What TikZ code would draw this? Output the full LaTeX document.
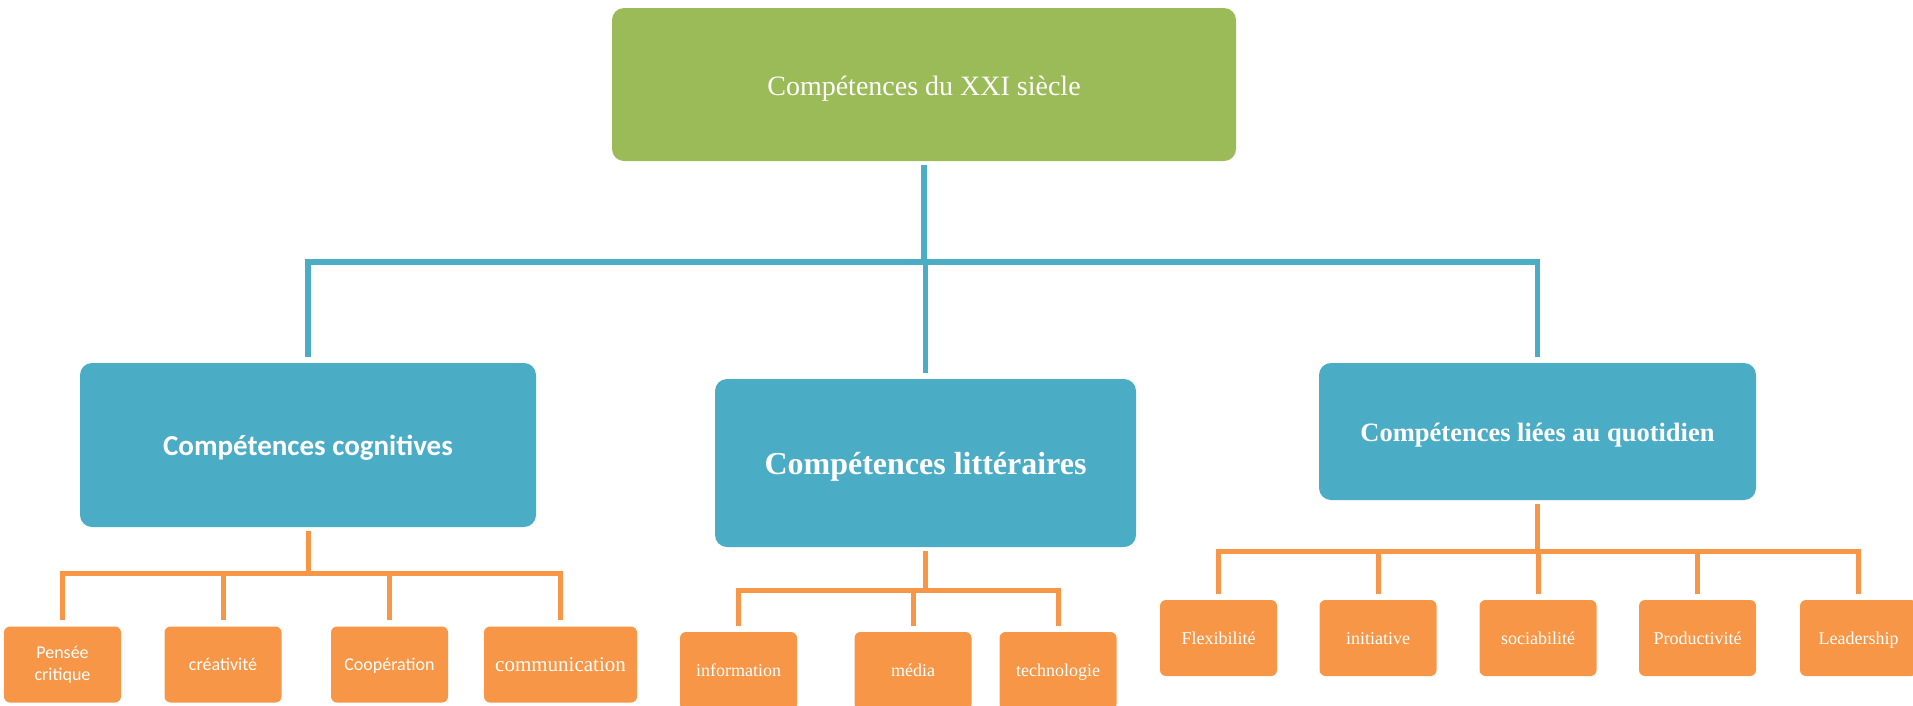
\documentclass[tikz,border=0pt]{standalone}
\usepackage{fontspec}
\setmainfont{Liberation Serif}
\newfontfamily\carlito{Carlito}
\definecolor{topgreen}{HTML}{9BBB59}
\definecolor{midblue}{HTML}{4BACC6}
\definecolor{leaforange}{HTML}{F79646}

\begin{document}
\begin{tikzpicture}[x=1pt, y=-1pt,
    topbox/.style={fill=topgreen, rounded corners=12pt, text=white, minimum width=624pt, minimum height=153pt, text height=21.5pt, text depth=0pt, font=\fontsize{28}{32}\selectfont},
    midbox/.style={fill=midblue, rounded corners=12pt, text=white, text depth=0pt},
    leafbox/.style={fill=leaforange, rounded corners=6pt, text=white, minimum width=117pt, minimum height=76pt, align=center, text height=12.5pt, text depth=0pt, font=\fontsize{18}{22}\selectfont},
    blueline/.style={draw=midblue, line width=5.5pt, shorten <=4pt, shorten >=6pt},
    orangeline/.style={draw=leaforange, line width=5pt, shorten <=4pt, shorten >=6pt}]
    \useasboundingbox (0,0) rectangle (1913,705);
    \clip (0,0) rectangle (1913,705);

    % Top
    \node[topbox] (top) at (924,84.5) {Compétences du XXI siècle};

    % Middle level
    \node[midbox, minimum width=456pt, minimum height=164pt, text height=20pt, font=\carlito\bfseries\fontsize{29}{33}\selectfont] (cog) at (308,445) {Compétences cognitives};
    \node[midbox, minimum width=421pt, minimum height=168pt, text height=23pt, font=\bfseries\fontsize{32}{36}\selectfont] (lit) at (925.5,463) {Compétences littéraires};
    \node[midbox, minimum width=437pt, minimum height=137pt, text height=20pt, font=\bfseries\fontsize{26.5}{30}\selectfont] (quo) at (1537.5,431.5) {Compétences liées au quotidien};

    % Leaves
    \node[leafbox, text height=, text depth=, font=\carlito\fontsize{18}{22}\selectfont] (pen) at (62.5,664.5) {Pensée\\critique};
    \node[leafbox, text height=11pt, font=\carlito\fontsize{18}{22}\selectfont] (cre) at (223,664.5) {créativité};
    \node[leafbox, text height=11pt, font=\carlito\fontsize{18}{22}\selectfont] (coo) at (389.5,664.5) {Coopération};
    \node[leafbox, minimum width=153pt, text height=13pt, font=\fontsize{21}{25}\selectfont] (com) at (560.5,664.5) {communication};

    \node[leafbox, minimum height=78pt, text height=10pt] (inf) at (738.5,671) {information};
    \node[leafbox, minimum height=78pt, text height=10pt] (med) at (913,671) {média};
    \node[leafbox, minimum height=78pt, text height=10pt] (tec) at (1058,671) {technologie};

    \node[leafbox] (fle) at (1218.5,638) {Flexibilité};
    \node[leafbox] (ini) at (1378,638) {initiative};
    \node[leafbox] (soc) at (1538,638) {sociabilité};
    \node[leafbox] (pro) at (1697.5,638) {Productivité};
    \node[leafbox] (lea) at (1858.5,638) {Leadership};

    % Blue connectors
    \coordinate (hub) at (924,262);
    \draw[blueline, shorten >=0pt] (top.south) -- (hub);
    \foreach \m in {cog,lit,quo}
        \draw[blueline, shorten <=0pt] (hub) -| (\m.north);

    % Orange connectors
    \coordinate (cogbus) at (308,573);
    \coordinate (litbus) at (925.5,590);
    \coordinate (quobus) at (1537.5,551);
    \draw[orangeline, shorten >=0pt] (cog.south) -- (cogbus);
    \draw[orangeline, shorten >=0pt] (lit.south) -- (litbus);
    \draw[orangeline, shorten >=0pt] (quo.south) -- (quobus);
    \foreach \c in {pen,cre,coo,com}
        \draw[orangeline, shorten <=0pt] (cogbus) -| (\c.north);
    \foreach \c in {inf,med,tec}
        \draw[orangeline, shorten <=0pt] (litbus) -| (\c.north);
    \foreach \c in {fle,ini,soc,pro,lea}
        \draw[orangeline, shorten <=0pt] (quobus) -| (\c.north);
\end{tikzpicture}
\end{document}
